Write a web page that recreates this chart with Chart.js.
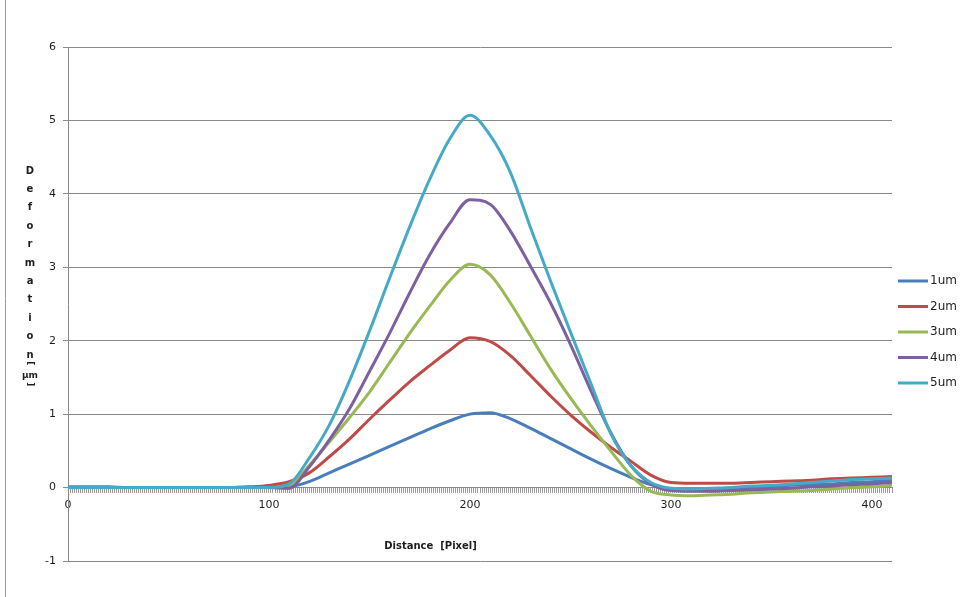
<!DOCTYPE html>
<html>
<head>
<meta charset="utf-8">
<title>Deformation</title>
<script src="https://cdn.jsdelivr.net/npm/chart.js@4.4.1/dist/chart.umd.min.js"></script>
<style>
    html, body { margin: 0; padding: 0; background: #fff; }
</style>
</head>
<body>
<canvas id="deformation" width="962" height="597"></canvas>

<script>
// distance in pixels, deformation in um, one array per scan
const distance = [0, 10, 20, 30, 40, 50, 60, 70, 80, 90, 100, 110, 120, 130, 140, 150, 160, 170, 180, 190,
    200, 210, 220, 230, 240, 250, 260, 270, 280, 290, 300, 310, 320, 330, 340, 350, 360, 370, 380, 390, 400, 410];

const um1 = [0.01, 0.01, 0.01, 0, 0, 0, 0, 0, 0, 0, 0, 0.01, 0.08, 0.2, 0.32, 0.44, 0.56, 0.68, 0.8, 0.91,
    1.0, 1.02, 0.94, 0.81, 0.67, 0.53, 0.39, 0.26, 0.14, 0.04, -0.02, -0.03, -0.02, -0.01, 0, 0.01, 0.03, 0.04, 0.05, 0.07, 0.08, 0.1];
const um2 = [0, 0, 0, 0, 0, 0, 0, 0, 0, 0.01, 0.03, 0.08, 0.2, 0.42, 0.66, 0.93, 1.19, 1.44, 1.66, 1.87,
    2.04, 1.99, 1.8, 1.53, 1.25, 0.99, 0.76, 0.55, 0.36, 0.17, 0.07, 0.06, 0.06, 0.06, 0.07, 0.08, 0.09, 0.1, 0.12, 0.13, 0.14, 0.15];
const um3 = [0, 0, 0, 0, 0, 0, 0, 0, 0, 0, 0, 0.03, 0.3, 0.62, 0.95, 1.3, 1.7, 2.1, 2.47, 2.82,
    3.04, 2.9, 2.52, 2.07, 1.62, 1.22, 0.85, 0.5, 0.17, -0.05, -0.1, -0.11, -0.1, -0.09, -0.07, -0.06, -0.05, -0.04, -0.02, 0, 0.01, 0.03];
const um4 = [0, 0, 0, 0, 0, 0, 0, 0, 0, 0, 0, -0.01, 0.28, 0.65, 1.07, 1.58, 2.1, 2.65, 3.17, 3.6,
    3.92, 3.86, 3.5, 3.02, 2.52, 1.95, 1.33, 0.75, 0.3, 0.05, -0.04, -0.05, -0.05, -0.04, -0.03, -0.02, -0.01, 0.01, 0.02, 0.04, 0.05, 0.07];
const um5 = [0, 0, 0, 0, 0, 0, 0, 0, 0, 0, 0, 0.05, 0.4, 0.85, 1.45, 2.13, 2.85, 3.55, 4.2, 4.75,
    5.07, 4.8, 4.3, 3.55, 2.82, 2.12, 1.43, 0.74, 0.3, 0.07, -0.01, -0.02, -0.01, 0, 0.02, 0.03, 0.05, 0.07, 0.09, 0.11, 0.12, 0.13];

const seriesNames = ['1um', '2um', '3um', '4um', '5um'];
const seriesValues = [um1, um2, um3, um4, um5];
const seriesColors = ['#4a7ebb', '#be4b48', '#98b954', '#7d60a0', '#46aac5'];

const yTicks = [-1, 0, 1, 2, 3, 4, 5, 6];
const xTickLabels = [0, 100, 200, 300, 400];

const axisGray = '#8a8a8a';
const textColor = '#1e1e1e';

// axis titles, legend and frame, drawn the Excel way
const decorations = {
    id: 'decorations',
    beforeDraw(chart) {
        const ctx = chart.ctx;
        ctx.save();
        ctx.fillStyle = '#fff';
        ctx.fillRect(0, 0, chart.width, chart.height);
        ctx.strokeStyle = '#9a9a9a';
        ctx.lineWidth = 1;
        ctx.beginPath();
        ctx.moveTo(5.5, 0);
        ctx.lineTo(5.5, chart.height);
        ctx.stroke();
        ctx.restore();
    },
    afterDraw(chart) {
        const ctx = chart.ctx;
        const area = chart.chartArea;
        const y = chart.scales.y;
        ctx.save();
        ctx.fillStyle = textColor;

        // x title
        ctx.font = 'bold 10px "DejaVu Sans"';
        ctx.textAlign = 'center';
        ctx.textBaseline = 'middle';
        ctx.fillText('Distance  [Pixel]', area.left + (area.right - area.left) * 0.44, y.getPixelForValue(-0.8));

        // stacked y title
        const letters = 'Deformation'.split('');
        let ty = area.top + 124;
        letters.forEach(ch => {
            ctx.fillText(ch, 30, ty);
            ty += 18.4;
        });
        ctx.font = 'bold 9px "DejaVu Sans"';
        ctx.save();
        ctx.translate(30, ty - 10);
        ctx.rotate(Math.PI / 2);
        ctx.fillText('[', 0, 0);
        ctx.restore();
        ctx.fillText('\u00b5m', 30, ty + 2);
        ctx.save();
        ctx.translate(30, ty + 11);
        ctx.rotate(Math.PI / 2);
        ctx.fillText(']', 0, 0);
        ctx.restore();

        // legend
        ctx.font = '12px "DejaVu Sans"';
        ctx.textAlign = 'left';
        ctx.lineWidth = 3;
        chart.data.datasets.forEach((ds, i) => {
            const ly = 281 + i * 25.5;
            ctx.strokeStyle = ds.borderColor;
            ctx.beginPath();
            ctx.moveTo(area.right + 6, ly);
            ctx.lineTo(area.right + 36, ly);
            ctx.stroke();
            ctx.fillText(ds.label, area.right + 38, ly);
        });
        ctx.restore();
    }
};

const datasets = seriesNames.map((name, i) => ({
    label: name,
    data: distance.map((d, j) => ({x: d, y: seriesValues[i][j]})),
    borderColor: seriesColors[i],
    backgroundColor: seriesColors[i],
    borderWidth: 3,
    pointRadius: 0,
    cubicInterpolationMode: 'monotone',
    order: seriesNames.length - i
}));

new Chart(document.getElementById('deformation'), {
    type: 'line',
    data: {datasets: datasets},
    options: {
        responsive: false,
        animation: false,
        events: [],
        layout: {padding: {left: 40, top: 47, right: 70, bottom: 36}},
        plugins: {
            legend: {display: false},
            title: {display: false},
            tooltip: {enabled: false}
        },
        scales: {
            x: {
                type: 'linear',
                position: {y: 0},
                min: 0,
                max: 410,
                grid: {drawOnChartArea: false, drawTicks: true, tickLength: 5, color: '#9a9a9a'},
                border: {display: true, color: axisGray},
                ticks: {
                    stepSize: 1,
                    maxTicksLimit: 1000,
                    autoSkip: false,
                    maxRotation: 0,
                    padding: 6,
                    color: textColor,
                    font: {family: 'DejaVu Sans', size: 11},
                    callback: v => xTickLabels.includes(v) ? String(v) : ''
                },
                afterFit: s => { s.paddingLeft = 0; s.paddingRight = 0; }
            },
            y: {
                min: -1,
                max: 6,
                grid: {color: axisGray, tickLength: 5},
                border: {display: true, color: axisGray},
                ticks: {
                    padding: 7,
                    color: textColor,
                    font: {family: 'DejaVu Sans', size: 11}
                },
                afterBuildTicks: s => { s.ticks = yTicks.map(v => ({value: v})); },
                afterFit: s => { s.width = 28; s.paddingTop = 0; s.paddingBottom = 0; }
            }
        }
    },
    plugins: [decorations]
});
</script>
</body>
</html>
